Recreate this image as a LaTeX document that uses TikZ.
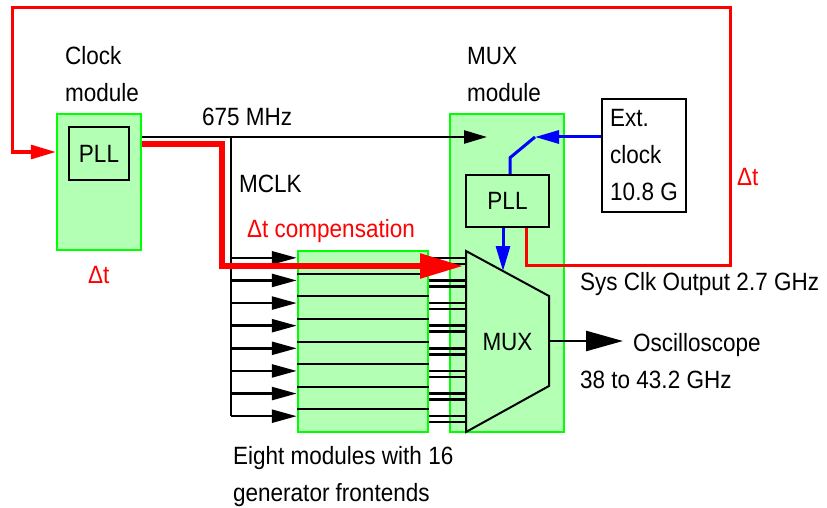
\documentclass[tikz,border=0pt]{standalone}
\usepackage{fontspec}
\setmainfont{Liberation Sans}[FakeStretch=0.9]
\usetikzlibrary{math}
\usetikzlibrary{arrows.meta}
\definecolor{modfill}{HTML}{B3FFB3}
\definecolor{modedge}{HTML}{00FF00}
\definecolor{sigred}{HTML}{FF0000}
\definecolor{sigblue}{HTML}{0000FF}

\begin{document}
\begin{tikzpicture}[x=1pt, y=-1pt,
	font=\fontsize{25}{37}\selectfont,
	module/.style={draw=modedge, fill=modfill, line width=2.5pt, inner sep=0pt},
	box/.style={draw=black, line width=2.5pt, inner sep=0pt},
	wire/.style={draw=black, line width=2.5pt},
	txt/.style={anchor=base west, inner sep=0pt, align=left},
]
	% Constants
	\tikzmath{
		int \numrow; \numrow = 8;
		\gentop = 251; \genbot = 432;
		\rowh = (\genbot - \gentop) / \numrow;
		\busx = 231; \muxleft = 466;
	}

	\useasboundingbox (0, 0) rectangle (827, 508);

	% Modules
	\node[module, minimum width=84pt, minimum height=136pt] (clockmod) at (99, 182) {};
	\node[module, minimum width=114pt, minimum height=318pt] (muxmod) at (507, 273) {};
	\node[box, minimum width=60pt, minimum height=53pt] (clockpll) at (99, 153.5) {PLL};
	\node[box, fill=modfill, minimum width=83pt, minimum height=52pt] (muxpll) at (507.5, 201) {PLL};
	\node[box, minimum width=84pt, minimum height=113pt, align=left] (extclk) at (644, 155.5) {Ext.\\clock\\10.8 G};
	\node[module, minimum width=130pt, minimum height=181pt] (gens) at (363, 341.5) {};

	% Labels (base of the last line)
	\node[txt] (clocklbl) at (65, 102) {Clock\\module};
	\node[txt] (muxlbl) at (467, 102) {MUX\\module};
	\node[txt] (freqlbl) at (202, 125) {675 MHz};
	\node[txt] (mclklbl) at (239, 192) {MCLK};
	\node[txt, text=sigred] (complbl) at (247, 237) {Δt compensation};
	\node[txt, text=sigred] (dtleft) at (88, 283) {Δt};
	\node[txt, text=sigred] (dtright) at (737, 185) {Δt};
	\node[txt] (syslbl) at (580, 290) {Sys Clk Output 2.7 GHz};
	\node[txt] (scopelbl) at (633, 351) {Oscilloscope};
	\node[txt] (scoperng) at (580, 388) {38 to 43.2 GHz};
	\node[txt] (genlbl) at (233, 501) {Eight modules with 16\\generator frontends};

	% Generator rows
	\foreach \i [
		evaluate=\i as \ya using {\gentop + (\i - 0.5)*\rowh - 4.5},
		evaluate=\i as \yb using {\gentop + (\i - 0.5)*\rowh + 1.5},
	] in {1, 2, ..., \numrow} {
		% Clock into module
		\draw[wire, -{Triangle[length=25pt, width=13pt]}] (\busx, \ya) -- (gens.west |- 0, \ya);
		% Two frontends into MUX
		\draw[wire] (gens.east |- 0, \ya) -- (\muxleft, \ya);
		\draw[wire] (gens.east |- 0, \yb) -- (\muxleft, \yb);
	}
	% Row dividers
	\foreach \i [evaluate=\i as \yd using {\gentop + \i*\rowh}] in {1, ..., 7} {
		\draw[line width=2pt] (gens.west |- 0, \yd) -- (gens.east |- 0, \yd);
	}

	% MUX
	\coordinate (muxnw) at (\muxleft, \gentop);
	\coordinate (muxsw) at (\muxleft, \genbot);
	\coordinate (muxne) at (549, 296);
	\coordinate (muxse) at (549, 386);
	\draw[fill=modfill, line width=2pt] (muxnw) -- (muxne) -- (muxse) -- (muxsw) -- cycle;
	\node (muxtxt) at (507.5, 342) {MUX};
	\coordinate (muxout) at (549, 341);
	\draw[wire, -{Triangle[length=37pt, width=20pt]}] (muxout) -- ([xshift=-10pt]scopelbl.west |- muxout);

	% Clock lines
	\coordinate (busin) at (\busx, 137);
	\draw[wire] (busin) -- (\busx, {\gentop + (\numrow - 0.5)*\rowh - 4.5});
	\draw[wire, -{Triangle[length=23pt, width=13pt]}] (clockmod.east |- busin) -- (487, 137);

	% Compensated clock
	\draw[sigred, line width=5.5pt, -{Triangle[length=43pt, width=24pt]}] (clockmod.east |- 0, 144) -| (222, 266) -- ([xshift=-3pt]muxnw |- 0, 266);
	% System clock loop
	\draw[sigred, line width=3pt, -{Triangle[length=25pt, width=14pt]}] ([xshift=18.5pt]muxpll.south) |- (730, 265) |- (12, 8) |- (clockmod.west |- 0, 152);

	% PLL to MUX
	\draw[sigblue, line width=3pt, -{Triangle[length=25pt, width=14pt]}] ([xshift=-4.5pt]muxpll.south) -- (503, 271);
	% Switch
	\coordinate (swpivot) at (535, 137);
	\draw[sigblue, line width=3pt] ([xshift=2.5pt]muxpll.north) -- ++(0, -16) -- (swpivot);
	\draw[sigblue, line width=3pt, -{Triangle[length=24pt, width=13pt]}] (extclk.west |- swpivot) -- (swpivot);
\end{tikzpicture}
\end{document}
